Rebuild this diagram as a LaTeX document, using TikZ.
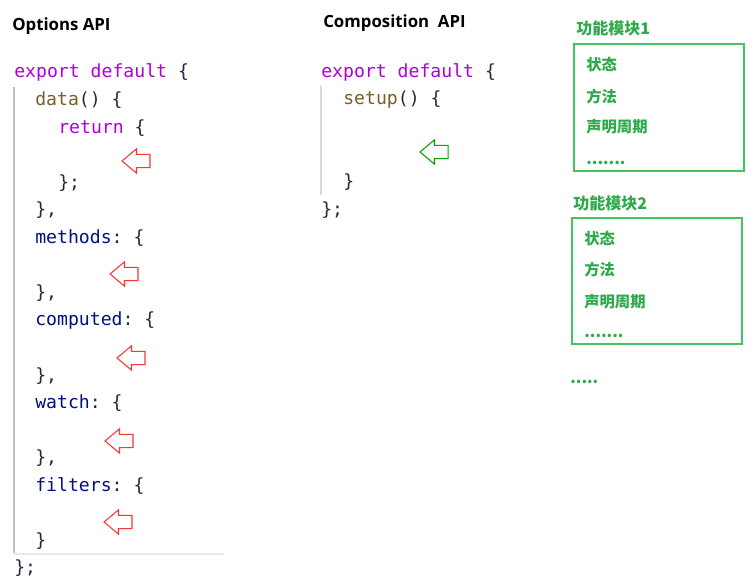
\documentclass[tikz,border=0pt]{standalone}
\usepackage{fontspec}
\usepackage{xcolor}
\usepackage{tikz}
\usetikzlibrary{shapes.arrows,positioning}
\setmonofont{DejaVu Sans Mono}
\newfontfamily\cjk{Noto Sans CJK SC}
\newfontfamily\headfont{Open Sans}
\definecolor{kwpurple}{RGB}{175,0,219}
\definecolor{fnbrown}{RGB}{121,94,38}
\definecolor{propblue}{RGB}{0,16,128}
\definecolor{punct}{RGB}{40,40,60}
\definecolor{modgreen}{RGB}{46,170,74}
\definecolor{boxgreen}{RGB}{70,195,95}
\newcommand{\kwd}[1]{\textcolor{kwpurple}{#1}}
\newcommand{\fnc}[1]{\textcolor{fnbrown}{#1}}
\newcommand{\prp}[1]{\textcolor{propblue}{#1}}
\tikzset{
    code/.style={anchor=base west, inner sep=0pt, text=punct, font=\ttfamily\fontsize{13.6}{16}\selectfont},
    heading/.style={anchor=base west, inner sep=0pt, font=\headfont\bfseries\fontsize{12.6}{15}\selectfont},
    modtitle/.style={anchor=west, inner sep=0pt, text=modgreen, font=\cjk\bfseries\fontsize{12}{14}\selectfont},
    moditem/.style={anchor=west, inner sep=0pt, text=modgreen, font=\cjk\bfseries\fontsize{11.5}{14}\selectfont},
    moddots/.style={anchor=base west, inner sep=0pt, text=modgreen, font=\cjk\bfseries\fontsize{12}{14}\selectfont},
    modbox/.style={draw=boxgreen, line width=1.2pt, inner sep=0pt},
    hollow/.style={single arrow, draw=#1, fill=white, line width=0.8pt, shape border rotate=180,
        minimum height=21pt, minimum width=17.5pt, inner xsep=0pt, inner ysep=4.6pt,
        single arrow head extend=4.1pt, single arrow tip angle=80},
}

\begin{document}
\begin{tikzpicture}[x=0.75pt,y=0.75pt,yscale=-1,xscale=1]
\path[use as bounding box] (0,0) rectangle (756,580);
%Options API
\node[heading] (optTitle) at (12,31) {Options API};
\draw[line width=1.5pt, color=black!25] (14,87) -- (14,553);
\draw[line width=1.5pt, color=black!9] (14,554) -- (224,554);
\node[code] (optExport) at (14,78) {\kwd{export default} \{};
\node[code] (optData) at (35,105.6) {\fnc{data}() \{};
\node[code] (optReturn) at (58,133.1) {\kwd{return} \{};
\node[code] (optReturnEnd) at (58,188.2) {\};};
\node[code] (optDataEnd) at (35,215.8) {\},};
\node[code] (optMethods) at (35,243.3) {\prp{methods}: \{};
\node[code] (optMethodsEnd) at (35,298.4) {\},};
\node[code] (optComputed) at (35,325.9) {\prp{computed}: \{};
\node[code] (optComputedEnd) at (35,381.1) {\},};
\node[code] (optWatch) at (35,408.6) {\prp{watch}: \{};
\node[code] (optWatchEnd) at (35,463.7) {\},};
\node[code] (optFilters) at (35,491.3) {\prp{filters}: \{};
\node[code] (optFiltersEnd) at (35,546.4) {\}};
\node[code] (optExportEnd) at (14,573.9) {\};};
%red arrows
\node[hollow=red!80] (arrData) at (140,161) {};
\node[hollow=red!80] (arrMethods) at (128,274) {};
\node[hollow=red!80] (arrComputed) at (135,358) {};
\node[hollow=red!80] (arrWatch) at (123,441) {};
\node[hollow=red!80] (arrFilters) at (122,522) {};
%Composition API
\node[heading] (compTitle) at (323,28) {Composition\ \ API};
\draw[line width=1.2pt, color=black!15] (321,86) -- (321,195);
\node[code] (compExport) at (321,77.5) {\kwd{export default} \{};
\node[code] (compSetup) at (343,105) {\fnc{setup}() \{};
\node[code] (compSetupEnd) at (343,187.7) {\}};
\node[code] (compExportEnd) at (321,215.3) {\};};
\node[hollow=green!65!black] (arrSetup) at (438,152) {};
%module 1
\node[modtitle] (modA) at (576,28) {功能模块1};
\node[modbox, minimum width=127.5pt, minimum height=95pt] (boxA) at (659,107.5) {};
\node[moditem] (stateA) at (586,65) {状态};
\node[moditem] (methodA) at (586,97) {方法};
\node[moditem] (lifeA) at (586,127) {声明周期};
\node[moddots] (moreA) at (586,165) {.......};
%module 2
\node[modtitle] (modB) at (573,203) {功能模块2};
\node[modbox, minimum width=127.5pt, minimum height=94.5pt] (boxB) at (657,281) {};
\node[moditem] (stateB) at (584,239) {状态};
\node[moditem] (methodB) at (584,270) {方法};
\node[moditem] (lifeB) at (584,302) {声明周期};
\node[moddots] (moreB) at (584,338) {.......};
\node[moddots] (moreMods) at (570,383) {.....};
\end{tikzpicture}
\end{document}
